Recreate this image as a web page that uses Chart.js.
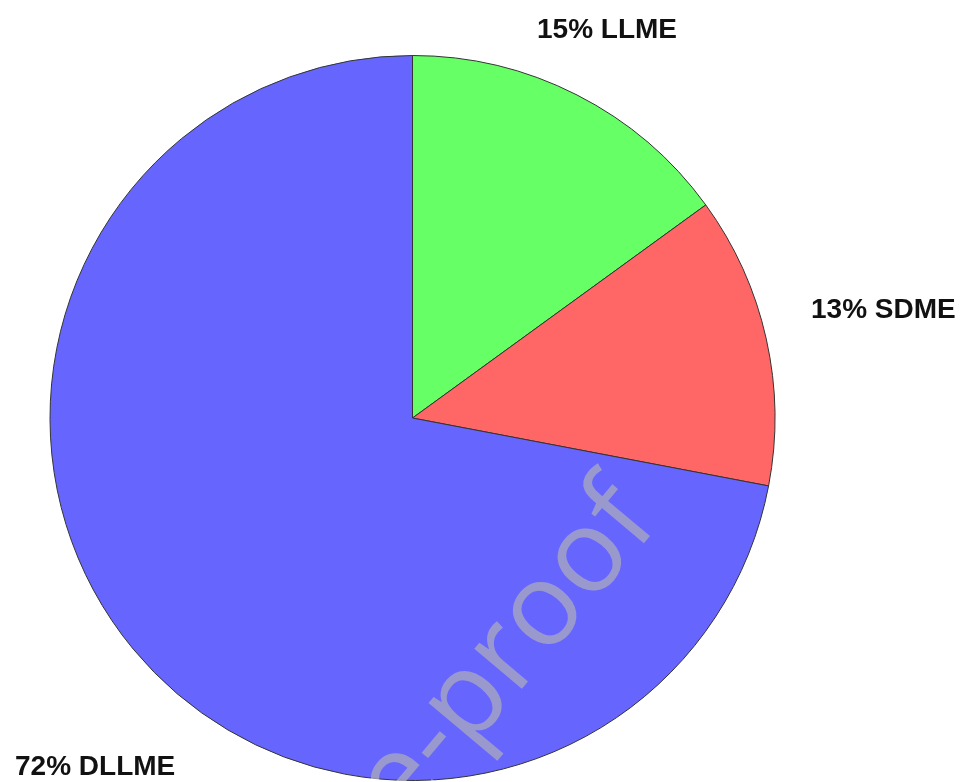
<!DOCTYPE html>
<html>
<head>
<meta charset="utf-8">
<script src="https://cdn.jsdelivr.net/npm/chart.js@4/dist/chart.umd.min.js"></script>
<style>
  html, body { margin: 0; padding: 0; background: #fff; }
  #wrap { width: 962px; height: 782px; position: relative; }
</style>
</head>
<body>
<div id="wrap"><canvas id="pie"></canvas></div>
<script>
"use strict";
// data
const categories = ["LLME", "SDME", "DLLME"];
const percents = [15, 13, 72];
const sliceColors = ["#66ff66", "#ff6666", "#6666ff"];

// where each label sits (left x, baseline y)
const labelSpots = [[537, 38], [811, 318], [15, 775]];

const labelPlugin = {
  id: "sliceLabels",
  afterDraw: (chart) => {
    const ctx = chart.ctx;
    ctx.save();
    // watermark only on the pie pixels
    ctx.globalCompositeOperation = "source-atop";
    ctx.translate(404, 829);
    ctx.rotate(-50 * Math.PI / 180);
    ctx.font = "116px 'Open Sans'";
    ctx.fillStyle = "rgba(170,170,190,0.75)";
    ctx.textAlign = "right";
    ctx.fillText("Journal Pr", 0, 0);
    ctx.textAlign = "left";
    ctx.fillText("e-proof", 0, 0);
    ctx.restore();

    ctx.save();
    ctx.font = "bold 28px 'Liberation Sans', Arial, sans-serif";
    ctx.fillStyle = "#111";
    ctx.textBaseline = "alphabetic";
    categories.forEach((c, i) => {
      ctx.fillText(percents[i] + "% " + c, labelSpots[i][0], labelSpots[i][1]);
    });
    ctx.restore();
  }
};

new Chart("pie", {
  type: "pie",
  data: {
    labels: categories,
    datasets: [{
      data: percents,
      backgroundColor: sliceColors,
      borderColor: "#333",
      borderWidth: 1
    }]
  },
  options: {
    responsive: true,
    maintainAspectRatio: false,
    animation: false,
    layout: { padding: { left: 49, right: 186, top: 55, bottom: 1 } },
    plugins: {
      legend: { display: false },
      tooltip: { enabled: false }
    }
  },
  plugins: [labelPlugin]
});
</script>
</body>
</html>
